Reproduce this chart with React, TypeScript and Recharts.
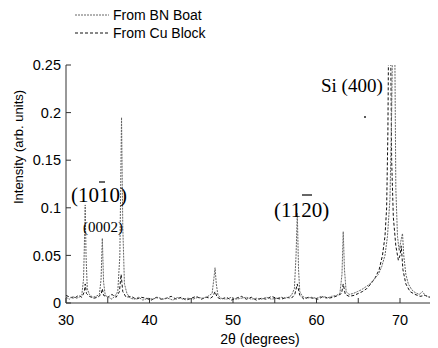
import React from 'react';
import { LineChart, Line, XAxis, YAxis } from 'recharts';

const bnAngle = [30.0, 30.4, 30.8, 31.2, 31.6, 31.9, 32.1, 32.2, 32.3, 32.4, 32.55, 32.8, 33.2, 33.6, 34.0, 34.2, 34.35, 34.5, 34.7, 35.1, 35.5, 35.9, 36.2, 36.45, 36.65, 36.8, 37.0, 37.3, 37.7, 38.2, 38.7, 39.2, 39.8, 40.4, 41.0, 41.6, 42.2, 42.8, 43.4, 44.0, 44.6, 45.2, 45.8, 46.4, 47.0, 47.5, 47.7, 47.85, 48.0, 48.2, 48.6, 49.2, 49.8, 50.4, 51.0, 51.6, 52.2, 52.8, 53.4, 54.0, 54.6, 55.2, 55.8, 56.4, 57.0, 57.35, 57.55, 57.7, 57.85, 58.0, 58.3, 58.8, 59.4, 60.0, 60.6, 61.2, 61.8, 62.4, 62.8, 63.05, 63.2, 63.35, 63.55, 63.9, 64.4, 64.9, 65.4, 65.9, 66.4, 66.9, 67.4, 67.8, 68.2, 68.5, 68.8, 69.0, 69.15, 69.35, 69.5, 69.7, 69.9, 70.1, 70.3, 70.45, 70.7, 71.0, 71.4, 71.8, 72.3, 72.7, 73.0, 73.5, 74.0, 74.55];
const bnIntensity = [0.006, 0.004, 0.007, 0.005, 0.006, 0.009, 0.025, 0.06, 0.103, 0.05, 0.015, 0.009, 0.006, 0.007, 0.009, 0.025, 0.068, 0.022, 0.008, 0.006, 0.004, 0.008, 0.012, 0.05, 0.195, 0.08, 0.02, 0.01, 0.005, 0.004, 0.006, 0.003, 0.005, 0.004, 0.006, 0.004, 0.005, 0.003, 0.006, 0.004, 0.005, 0.004, 0.006, 0.005, 0.007, 0.01, 0.025, 0.037, 0.02, 0.008, 0.005, 0.004, 0.006, 0.004, 0.005, 0.006, 0.004, 0.005, 0.004, 0.006, 0.004, 0.005, 0.006, 0.005, 0.008, 0.015, 0.05, 0.094, 0.035, 0.012, 0.007, 0.005, 0.006, 0.005, 0.007, 0.005, 0.007, 0.008, 0.01, 0.03, 0.075, 0.035, 0.012, 0.009, 0.01, 0.012, 0.014, 0.017, 0.02, 0.025, 0.03, 0.038, 0.05, 0.07, 0.11, 0.2, 0.3, 0.3, 0.12, 0.07, 0.055, 0.065, 0.073, 0.05, 0.03, 0.02, 0.014, 0.011, 0.009, 0.012, 0.008, 0.006, 0.009, 0.005];

const cuAngle = [30.0, 30.5, 31.0, 31.5, 31.9, 32.2, 32.3, 32.45, 32.8, 33.3, 33.8, 34.2, 34.35, 34.5, 35.0, 35.5, 36.0, 36.4, 36.6, 36.8, 37.2, 37.8, 38.4, 39.0, 39.6, 40.2, 40.8, 41.4, 42.0, 42.6, 43.2, 43.8, 44.4, 45.0, 45.6, 46.2, 46.8, 47.3, 47.6, 47.85, 48.1, 48.6, 49.2, 49.8, 50.4, 51.0, 51.6, 52.2, 52.8, 53.4, 54.0, 54.6, 55.2, 55.8, 56.4, 57.0, 57.4, 57.7, 58.0, 58.5, 59.0, 59.6, 60.2, 60.8, 61.4, 62.0, 62.6, 63.0, 63.2, 63.45, 63.9, 64.5, 65.0, 65.5, 66.0, 66.5, 67.0, 67.5, 67.9, 68.2, 68.4, 68.55, 68.65, 68.85, 69.0, 69.2, 69.5, 69.8, 70.0, 70.15, 70.35, 70.7, 71.2, 71.8, 72.4, 73.0, 73.6, 74.2, 74.55];
const cuIntensity = [0.008, 0.006, 0.005, 0.008, 0.006, 0.012, 0.02, 0.01, 0.007, 0.005, 0.006, 0.009, 0.015, 0.008, 0.006, 0.009, 0.006, 0.012, 0.03, 0.012, 0.006, 0.007, 0.004, 0.006, 0.005, 0.003, 0.006, 0.004, 0.005, 0.007, 0.004, 0.006, 0.003, 0.005, 0.007, 0.004, 0.006, 0.005, 0.007, 0.012, 0.006, 0.004, 0.006, 0.003, 0.005, 0.007, 0.004, 0.006, 0.003, 0.005, 0.004, 0.007, 0.005, 0.004, 0.006, 0.005, 0.009, 0.02, 0.008, 0.004, 0.006, 0.005, 0.004, 0.007, 0.005, 0.006, 0.008, 0.01, 0.02, 0.009, 0.007, 0.008, 0.01, 0.012, 0.015, 0.02, 0.026, 0.035, 0.05, 0.07, 0.1, 0.18, 0.3, 0.3, 0.15, 0.09, 0.06, 0.045, 0.05, 0.06, 0.035, 0.02, 0.012, 0.009, 0.007, 0.008, 0.006, 0.007, 0.006];

const xTicks = [30, 35, 40, 45, 50, 55, 60, 65, 70];
const xLabelTicks = [30, 40, 50, 60, 70];
const yTicks = [0, 0.05, 0.1, 0.15, 0.2, 0.25];

const seriesNames = ['From BN Boat', 'From Cu Block'];

const bnData = bnAngle.map((x, i) => ({ x, y: bnIntensity[i] }));
const cuData = cuAngle.map((x, i) => ({ x, y: cuIntensity[i] }));

const W = 430;
const H = 340;
const sans = 'Liberation Sans, Arial, sans-serif';
const serif = 'Liberation Serif, Times New Roman, serif';

function Overlay() {
  return (
    <svg width={W} height={H} style={{ position: 'absolute', left: 0, top: 0, pointerEvents: 'none' }}>
      {/* legend */}
      <line x1={67} y1={7} x2={101} y2={7} stroke="#666" strokeWidth={1} strokeDasharray="2 1" />
      <text x={105} y={12} fontFamily={sans} fontSize={14} fill="#000">{seriesNames[0]}</text>
      <line x1={67} y1={25} x2={102} y2={25} stroke="#111" strokeWidth={1} strokeDasharray="3 2" />
      <text x={105} y={30} fontFamily={sans} fontSize={14} fill="#000">{seriesNames[1]}</text>
      {/* axis titles */}
      <text transform="translate(15,139) rotate(-90)" textAnchor="middle" fontFamily={sans} fontSize={13} fill="#000">Intensity (arb. units)</text>
      <text x={252} y={336} textAnchor="middle" fontFamily={sans} fontSize={14} fill="#000">2θ (degrees)</text>
      {/* annotations */}
      <text x={63} y={194} fontFamily={serif} fontSize={21} fill="#000">(1010)</text>
      <line x1={91} y1={174} x2={97} y2={174} stroke="#000" strokeWidth={1.2} />
      <text x={75} y={224} fontFamily={serif} fontSize={15} fill="#000">(0002)</text>
      <text x={266} y={209} fontFamily={serif} fontSize={21} fill="#000">(1120)</text>
      <line x1={294} y1={187} x2={304} y2={187} stroke="#000" strokeWidth={1.2} />
      <text x={313} y={84} fontFamily={serif} fontSize={19} fill="#000">Si (400)</text>
      <circle cx={357} cy={109} r={1} fill="#222" />
    </svg>
  );
}

export default function App() {
  return (
    <div style={{ position: 'relative', width: W, height: H }}>
      <LineChart width={W} height={H} margin={{ top: 57, right: 0, bottom: 0, left: 0 }}>
        <XAxis
          type="number"
          dataKey="x"
          domain={[30, 74.55]}
          allowDataOverflow
          ticks={xTicks}
          tickFormatter={(v: number) => (xLabelTicks.includes(v) ? String(v) : '')}
          height={45}
          tickSize={-5}
          tickMargin={17}
          stroke="#333"
          tick={{ fill: '#000', fontSize: 14.5, fontFamily: sans }}
        />
        <XAxis
          xAxisId="top"
          orientation="top"
          type="number"
          dataKey="x"
          domain={[30, 74.55]}
          allowDataOverflow
          ticks={xTicks}
          tickFormatter={() => ''}
          height={0}
          tickSize={-4}
          stroke="#444"
        />
        <YAxis
          type="number"
          domain={[0, 0.25]}
          allowDataOverflow
          ticks={yTicks}
          width={58}
          tickSize={-5}
          tickMargin={10}
          stroke="#333"
          tick={{ fill: '#000', fontSize: 14.5, fontFamily: sans }}
        />
        <Line data={cuData} dataKey="y" type="linear" stroke="#111" strokeWidth={1} strokeDasharray="3 2" dot={false} isAnimationActive={false} />
        <Line data={bnData} dataKey="y" type="linear" stroke="#666" strokeWidth={1} strokeDasharray="2 1" dot={false} isAnimationActive={false} />
      </LineChart>
      <Overlay />
    </div>
  );
}
